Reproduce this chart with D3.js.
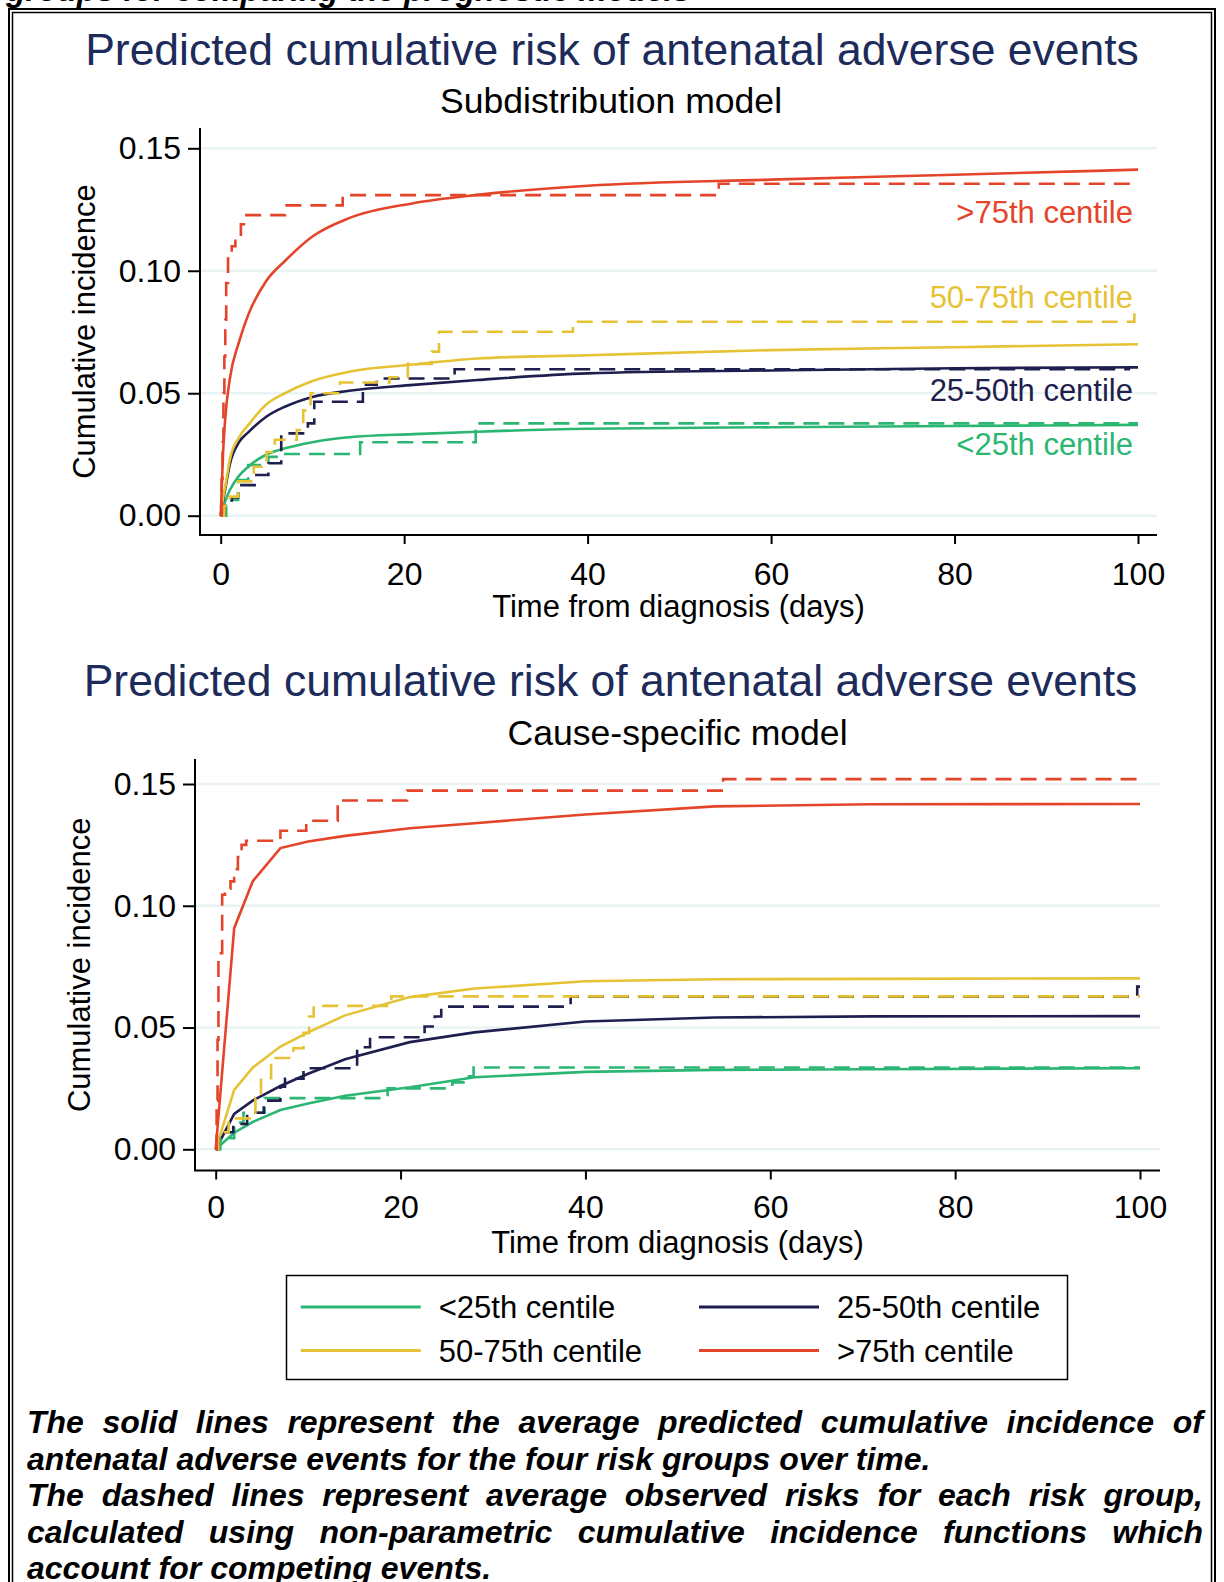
<!DOCTYPE html>
<html>
<head>
<meta charset="utf-8">
<script src="https://cdn.jsdelivr.net/npm/d3@7"></script>
<style>
  body { margin: 0; background: #fff; }
  text { font-family: "Liberation Sans", Arial, Helvetica, sans-serif; }
</style>
</head>
<body>
<script>
// risk groups, in legend order
var groups = ["<25th centile", "25-50th centile", "50-75th centile", ">75th centile"];
var groupColors = ["#2bb673", "#1f1f4f", "#e6c235", "#e4442a"];

var xTicks = [0, 20, 40, 60, 80, 100];
var yTicks = [0, 0.05, 0.10, 0.15];

// ---- Subdistribution model: predicted (smooth) ----
var sdTimes = [0, 0.25, 0.5, 1, 2, 3, 5, 7, 10, 14, 21, 28, 40, 60, 80, 100];
var sdPredLt25 = [0, 0.003, 0.006, 0.0105, 0.0163, 0.020, 0.025, 0.0275, 0.030, 0.032, 0.0333, 0.0343, 0.0355, 0.0361, 0.0366, 0.0371];
var sdPred25to50 = [0, 0.006, 0.011, 0.021, 0.030, 0.034, 0.0405, 0.0445, 0.0485, 0.051, 0.0534, 0.0554, 0.0581, 0.0593, 0.0602, 0.0606];
var sdPred50to75 = [0, 0.007, 0.012, 0.023, 0.032, 0.037, 0.0455, 0.050, 0.055, 0.0588, 0.0617, 0.0642, 0.0655, 0.0676, 0.0688, 0.070];
var sdPredGt75 = [0, 0.025, 0.040, 0.056, 0.071, 0.082, 0.096, 0.104, 0.114, 0.1215, 0.1276, 0.131, 0.1347, 0.1372, 0.1392, 0.1413];

// ---- Subdistribution model: observed (step, time of each jump) ----
var sdObsLt25T = [0, 0.6, 1.9, 3.0, 5.2, 6.6, 15.2, 27.8];
var sdObsLt25 = [0, 0.0064, 0.0146, 0.0207, 0.024, 0.0252, 0.030, 0.0377];
var sdObs25to50T = [0, 0.4, 1.2, 1.9, 3.7, 5.2, 6.6, 9.5, 10.2, 15.5, 17.0, 25.5, 99.0];
var sdObs25to50 = [0, 0.004, 0.0075, 0.0125, 0.0166, 0.0214, 0.0336, 0.0377, 0.0465, 0.0535, 0.056, 0.0598, 0.0606];
var sdObs50to75T = [0, 0.4, 1.0, 1.9, 3.6, 5.0, 5.9, 8.3, 9.0, 9.8, 13.0, 18.4, 20.4, 23.0, 23.8, 38.4, 99.6];
var sdObs50to75 = [0, 0.004, 0.0078, 0.014, 0.020, 0.026, 0.031, 0.035, 0.043, 0.050, 0.0544, 0.0565, 0.062, 0.067, 0.0751, 0.0792, 0.0833];
var sdObsGt75T = [0, 0.1, 0.2, 0.3, 0.4, 0.5, 0.6, 0.8, 1.2, 1.6, 2.2, 2.8, 7.0, 13.3, 54.3];
var sdObsGt75 = [0, 0.015, 0.03, 0.05, 0.065, 0.08, 0.095, 0.105, 0.110, 0.114, 0.119, 0.1227, 0.1267, 0.1309, 0.1355];

// ---- Cause-specific model: predicted (piecewise) ----
var csTimes = [0, 2, 4, 7, 10, 14, 21, 28, 40, 54, 71, 100];
var csPredLt25 = [0, 0.0068, 0.0112, 0.0161, 0.0188, 0.022, 0.0255, 0.0296, 0.0318, 0.0326, 0.0329, 0.0333];
var csPred25to50 = [0, 0.0145, 0.020, 0.026, 0.031, 0.037, 0.044, 0.048, 0.0525, 0.0541, 0.0546, 0.0547];
var csPred50to75 = [0, 0.0244, 0.0335, 0.0422, 0.048, 0.055, 0.0625, 0.066, 0.069, 0.0698, 0.070, 0.0702];
var csPredGt75 = [0, 0.0908, 0.110, 0.1237, 0.1264, 0.1287, 0.1318, 0.1339, 0.1375, 0.1408, 0.1417, 0.1418];

// ---- Cause-specific model: observed (step) ----
var csObsLt25T = [0, 0.5, 2.0, 3.0, 5.3, 18.6, 25.6, 27.2, 27.9];
var csObsLt25 = [0, 0.0046, 0.011, 0.015, 0.021, 0.025, 0.0275, 0.030, 0.0336];
var csObs25to50T = [0, 0.3, 1.9, 3.4, 5.2, 7.0, 7.5, 9.5, 15.3, 16.7, 22.6, 23.7, 24.4, 38.4, 99.7];
var csObs25to50 = [0, 0.007, 0.0104, 0.015, 0.020, 0.0257, 0.029, 0.0333, 0.0419, 0.046, 0.0504, 0.0545, 0.0586, 0.0627, 0.0668];
var csObs50to75T = [0, 0.3, 1.4, 4.3, 4.9, 6.0, 8.4, 9.5, 10.1, 10.6, 19.0];
var csObs50to75 = [0, 0.007, 0.0127, 0.021, 0.0292, 0.0375, 0.0415, 0.0478, 0.0545, 0.0589, 0.0628];
var csObsGt75T = [0, 0.1, 0.2, 0.3, 0.7, 1.0, 1.6, 2.0, 2.4, 2.8, 3.3, 7.0, 9.8, 13.2, 20.7, 54.9];
var csObsGt75 = [0, 0.02, 0.045, 0.0805, 0.1045, 0.107, 0.110, 0.115, 0.120, 0.125, 0.1267, 0.1308, 0.1349, 0.1432, 0.1473, 0.152];

var captionLines = [
  ["The solid lines represent the average predicted cumulative incidence of", true],
  ["antenatal adverse events for the four risk groups over time.", false],
  ["The dashed lines represent average observed risks for each risk group,", true],
  ["calculated using non-parametric cumulative incidence functions which", true],
  ["account for competing events.", false]
];

var W = 1224, H = 1582;
var TITLE_COLOR = "#1c2b5a";
var GRID_COLOR = "#eaf3f3";
var FS_TITLE = 44.5, FS_SUB = 35.6, FS_TICK = 32, FS_LAB = 31, FS_CAP = 32;

var svg = d3.select("body").append("svg")
  .attr("width", W)
  .attr("height", H);

// cut-off line of the figure caption above the frame
svg.append("text")
  .attr("x", 6)
  .attr("y", 1)
  .style("font-size", FS_CAP + "px")
  .style("font-weight", "bold")
  .style("font-style", "italic")
  .text("groups for comparing the prognostic models");

// double frame
svg.append("rect")
  .attr("x", 9).attr("y", 9).attr("width", 1206).attr("height", 1620)
  .attr("fill", "#fff").attr("stroke", "#000").attr("stroke-width", 2);
svg.append("rect")
  .attr("x", 12.5).attr("y", 12.5).attr("width", 1199).attr("height", 1620)
  .attr("fill", "none").attr("stroke", "#000").attr("stroke-width", 1.5);

function zipSeries(t, v) {
  return t.map(function (d, i) { return [d, v[i]]; });
}

function drawPanel(p) {
  var g = svg.append("g");
  var x = d3.scaleLinear().domain([0, 100]).range(p.xRange);
  var y = d3.scaleLinear().domain([0, 0.15]).range(p.yRange);

  // titles
  g.append("text")
    .attr("x", p.titleX).attr("y", p.titleY)
    .attr("text-anchor", "middle")
    .style("font-size", FS_TITLE + "px")
    .style("fill", TITLE_COLOR)
    .text("Predicted cumulative risk of antenatal adverse events");
  g.append("text")
    .attr("x", p.subX).attr("y", p.subY)
    .attr("text-anchor", "middle")
    .style("font-size", FS_SUB + "px")
    .text(p.subtitle);

  // grid
  g.selectAll(".grid")
    .data(yTicks)
    .enter()
    .append("line")
    .attr("x1", p.axisX + 1).attr("x2", p.axisRight)
    .attr("y1", function (d) { return y(d); })
    .attr("y2", function (d) { return y(d); })
    .attr("stroke", GRID_COLOR)
    .attr("stroke-width", 2.5);

  // axes
  var yAxis = d3.axisLeft(y).tickValues(yTicks).tickSize(12).tickPadding(7)
    .tickFormat(d3.format(".2f"));
  var gy = g.append("g").attr("transform", "translate(" + p.axisX + ",0)").call(yAxis);
  gy.select(".domain").remove();
  gy.append("line")
    .attr("x1", 0).attr("x2", 0)
    .attr("y1", p.axisTop).attr("y2", p.axisY)
    .attr("stroke", "#000").attr("stroke-width", 2);

  var xAxis = d3.axisBottom(x).tickValues(xTicks).tickSize(9).tickPadding(p.xPad);
  var gx = g.append("g").attr("transform", "translate(0," + p.axisY + ")").call(xAxis);
  gx.select(".domain").remove();
  gx.append("line")
    .attr("x1", p.axisX - 1).attr("x2", p.axisRight)
    .attr("y1", 0).attr("y2", 0)
    .attr("stroke", "#000").attr("stroke-width", 2);

  g.selectAll(".tick line").attr("stroke", "#000").attr("stroke-width", 2);
  g.selectAll(".tick text")
    .style("font-family", '"Liberation Sans", Arial, sans-serif')
    .style("font-size", FS_TICK + "px")
    .attr("fill", "#000");
  gx.selectAll(".tick text").attr("dy", "0.71em");

  g.append("text")
    .attr("x", (p.axisX + p.axisRight) / 2).attr("y", p.xTitleY)
    .attr("text-anchor", "middle")
    .style("font-size", FS_LAB + "px")
    .text("Time from diagnosis (days)");
  g.append("text")
    .attr("transform", "translate(" + p.yTitleX + "," + (p.axisTop + p.axisY) / 2 + ") rotate(-90)")
    .attr("text-anchor", "middle")
    .style("font-size", FS_LAB + "px")
    .text("Cumulative incidence");

  // solid predicted curves
  var smooth = d3.line()
    .x(function (d) { return x(d[0]); })
    .y(function (d) { return y(d[1]); })
    .curve(p.curve);
  p.pred.forEach(function (vals, i) {
    g.append("path")
      .datum(zipSeries(p.predTimes, vals))
      .attr("d", smooth)
      .attr("fill", "none")
      .attr("stroke", groupColors[i])
      .attr("stroke-width", 2.6);
  });

  // dashed observed step curves
  var step = d3.line()
    .x(function (d) { return x(d[0]); })
    .y(function (d) { return y(d[1]); })
    .curve(d3.curveStepAfter);
  p.obs.forEach(function (s, i) {
    var pts = zipSeries(s[0], s[1]);
    pts.push([100, s[1][s[1].length - 1]]);
    g.append("path")
      .datum(pts)
      .attr("d", step)
      .attr("fill", "none")
      .attr("stroke", groupColors[i])
      .attr("stroke-width", 2.6)
      .attr("stroke-dasharray", "16,9");
  });

  return { x: x, y: y, g: g };
}

var topPanel = drawPanel({
  subtitle: "Subdistribution model",
  titleX: 612, titleY: 65, subX: 611, subY: 113,
  xRange: [220.7, 1138], yRange: [515.7, 148.3],
  axisX: 200, axisY: 535, axisTop: 128, axisRight: 1157,
  xPad: 18, xTitleY: 617, yTitleX: 95,
  curve: d3.curveMonotoneX,
  predTimes: sdTimes,
  pred: [sdPredLt25, sdPred25to50, sdPred50to75, sdPredGt75],
  obs: [[sdObsLt25T, sdObsLt25], [sdObs25to50T, sdObs25to50],
        [sdObs50to75T, sdObs50to75], [sdObsGt75T, sdObsGt75]]
});

// in-plot group labels (top panel only)
var labelBaselines = [455, 401, 308, 223];
topPanel.g.selectAll(".glabel")
  .data(groups)
  .enter()
  .append("text")
  .attr("x", 1133)
  .attr("y", function (d, i) { return labelBaselines[i]; })
  .attr("text-anchor", "end")
  .style("font-size", FS_LAB + "px")
  .style("fill", function (d, i) { return groupColors[i]; })
  .text(function (d) { return d; });

drawPanel({
  subtitle: "Cause-specific model",
  titleX: 610.5, titleY: 696, subX: 677.5, subY: 744.5,
  xRange: [215.7, 1140], yRange: [1149.3, 784],
  axisX: 195, axisY: 1170.5, axisTop: 759, axisRight: 1160,
  xPad: 16, xTitleY: 1252.5, yTitleX: 90,
  curve: d3.curveLinear,
  predTimes: csTimes,
  pred: [csPredLt25, csPred25to50, csPred50to75, csPredGt75],
  obs: [[csObsLt25T, csObsLt25], [csObs25to50T, csObs25to50],
        [csObs50to75T, csObs50to75], [csObsGt75T, csObsGt75]]
});

// legend
var legend = svg.append("g");
legend.append("rect")
  .attr("x", 286.5).attr("y", 1275.5).attr("width", 781).attr("height", 104)
  .attr("fill", "#fff").attr("stroke", "#000").attr("stroke-width", 1.5);
var legRows = [1307, 1350.5];
var legItems = legend.selectAll(".leg")
  .data(groups)
  .enter()
  .append("g")
  .attr("transform", function (d, i) {
    var cx = i % 2 === 0 ? 300.7 : 699;
    return "translate(" + cx + "," + legRows[Math.floor(i / 2)] + ")";
  });
legItems.append("line")
  .attr("x1", 0).attr("x2", 120)
  .attr("stroke", function (d, i) { return groupColors[i]; })
  .attr("stroke-width", 2.8);
legItems.append("text")
  .attr("x", 138).attr("y", 11)
  .style("font-size", FS_LAB + "px")
  .text(function (d) { return d; });

// justified caption
var capLeft = 27, capRight = 1203, capTop = 1433, capStep = 36.6;
captionLines.forEach(function (line, li) {
  var words = line[0].split(" ");
  var yy = capTop + li * capStep;
  var texts = words.map(function (w) {
    return svg.append("text")
      .attr("y", yy)
      .style("font-size", FS_CAP + "px")
      .style("font-weight", "bold")
      .style("font-style", "italic")
      .text(w);
  });
  var widths = texts.map(function (t) { return t.node().getComputedTextLength(); });
  var total = d3.sum(widths);
  var gap = line[1] ? (capRight - capLeft - total) / (words.length - 1) : FS_CAP * 0.278;
  var cx = capLeft;
  texts.forEach(function (t, i) {
    t.attr("x", cx);
    cx += widths[i] + gap;
  });
});
</script>
</body>
</html>
